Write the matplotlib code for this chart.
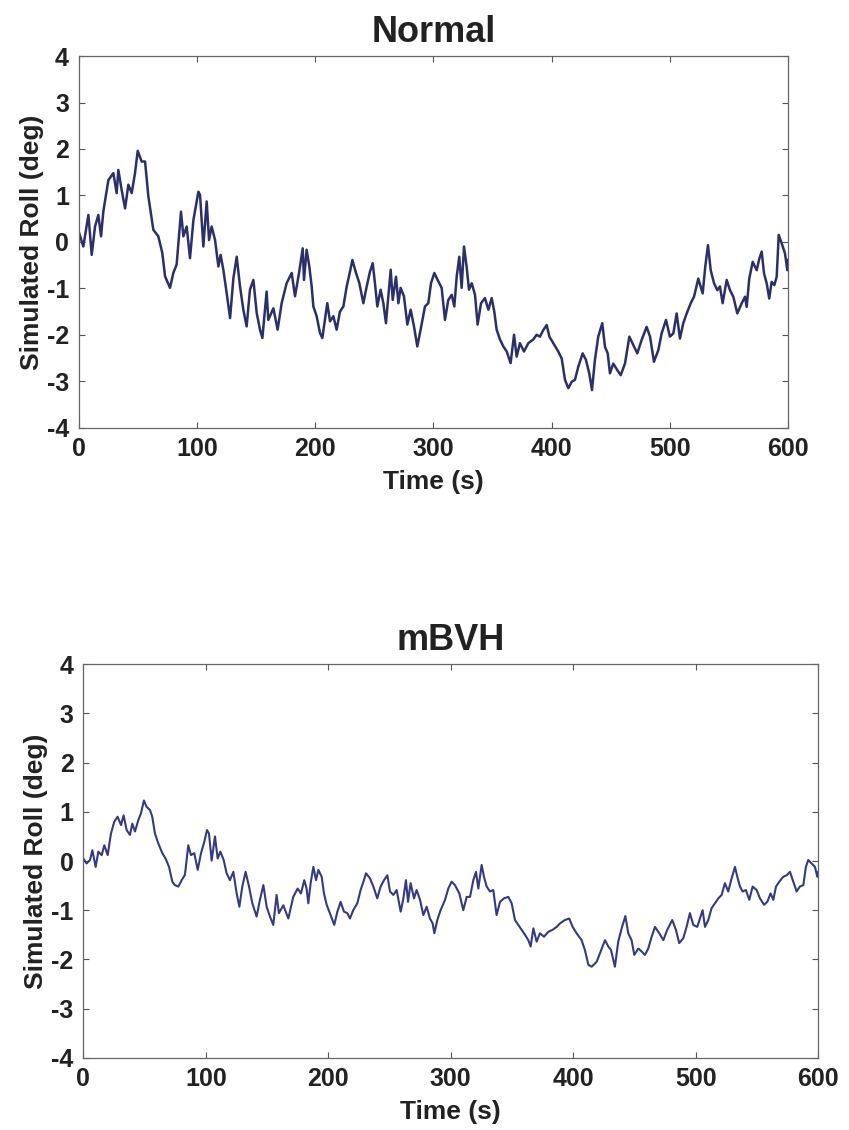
import matplotlib.pyplot as plt

# 読み取り値: Normal (上段)
normal_time = [
    0, 3.9, 8.2, 11.0, 13.8, 16.6, 18.9, 20.8, 25.1, 29.3, 32.1, 33.5, 36.3, 39.2,
    42.0, 44.8, 47.6, 49.9, 53.2, 56.1, 58.9, 63.1, 67.3, 70.7, 73.0, 77.2, 80.0,
    82.8, 86.5, 88.5, 91.3, 94.1, 97.0, 101.2, 102.6, 105.4, 108.2, 110.2, 112.4,
    115.3, 118.1, 120.0, 122.3, 125.1, 128.0, 130.8, 133.6, 136.4, 139.2, 142.0,
    144.8, 147.7, 150.5, 153.3, 155.3, 158.9, 160.3, 164.6, 168.2, 171.6, 175.8,
    180.1, 182.9, 186.3, 189.4, 190.5, 192.7, 195.0, 197.0, 198.4, 201.2, 204.0,
    206.0, 208.2, 210.2, 212.5, 215.3, 218.1, 220.9, 223.8, 226.6, 229.4, 231.4,
    234.5, 237.3, 240.7, 243.5, 246.3, 248.6, 250.5, 252.5, 255.3, 257.6, 259.8,
    261.8, 263.8, 265.5, 268.3, 270.3, 272.2, 275.0, 277.9, 280.7, 283.5, 286.3,
    289.1, 292.8, 295.6, 297.9, 300.7, 303.5, 306.9, 309.7, 312.5, 315.4, 317.6,
    319.6, 321.8, 323.8, 325.8, 328.0, 330.0, 332.3, 335.1, 337.3, 340.2, 343.5,
    346.4, 349.2, 351.4, 353.4, 356.2, 359.0, 361.9, 365.2, 368.1, 370.3, 373.1,
    376.5, 380.2, 384.4, 387.2, 390.0, 392.8, 395.7, 398.0, 401.3, 405.5, 408.4,
    411.2, 414.0, 416.9, 419.6, 422.4, 426.1, 428.9, 431.7, 434.0, 436.5, 439.3,
    442.7, 445.0, 447.3, 449.2, 452.0, 455.4, 458.3, 461.9, 465.6, 468.9, 472.3,
    476.0, 480.2, 483.1, 486.4, 490.1, 492.9, 496.6, 499.9, 502.8, 505.6, 508.4,
    511.2, 514.1, 517.5, 520.3, 523.9, 527.6, 529.8, 532.1, 534.4, 537.2, 540.0,
    542.2, 544.5, 547.9, 550.7, 553.5, 556.9, 560.6, 563.4, 564.8, 567.0, 569.9,
    573.3, 575.5, 577.5, 579.5, 581.7, 583.9, 585.9, 588.2, 590.2, 591.9, 594.4,
    597.2, 599.2, 600.0,
]
normal_roll = [
    0.22, -0.10, 0.58, -0.28, 0.33, 0.58, 0.12, 0.65, 1.33, 1.48, 1.05, 1.55, 1.12, 0.72,
    1.23, 1.05, 1.48, 1.96, 1.73, 1.73, 0.98, 0.26, 0.12, -0.24, -0.74, -0.99, -0.67,
    -0.49, 0.65, 0.12, 0.33, -0.35, 0.47, 1.08, 1.01, -0.10, 0.87, 0.04, 0.33,
    0.04, -0.53, -0.28, -0.60, -1.10, -1.64, -0.78, -0.32, -0.96, -1.46, -1.82,
    -1.03, -0.82, -1.53, -1.89, -2.07, -1.07, -1.68, -1.43, -1.89, -1.32, -0.89,
    -0.67, -1.17, -0.67, -0.14, -0.82, -0.17, -0.53, -0.96, -1.39, -1.60, -1.96,
    -2.07, -1.68, -1.32, -1.71, -1.60, -1.89, -1.50, -1.39, -0.96, -0.64, -0.39,
    -0.67, -0.89, -1.32, -0.96, -0.64, -0.46, -0.89, -1.39, -1.03, -1.32, -1.75,
    -1.17, -0.60, -1.25, -0.75, -1.32, -0.99, -1.17, -1.78, -1.46, -1.82, -2.25,
    -1.89, -1.39, -1.32, -0.89, -0.67, -0.82, -0.99, -1.68, -1.25, -1.14, -1.39,
    -0.75, -0.32, -0.99, -0.10, -0.53, -1.03, -0.89, -1.14, -1.78, -1.32, -1.21,
    -1.46, -1.21, -1.50, -1.89, -2.10, -2.25, -2.36, -2.61, -2.00, -2.47, -2.18,
    -2.36, -2.18, -2.10, -2.00, -2.04, -1.90, -1.79, -2.04, -2.18, -2.36, -2.51,
    -2.97, -3.15, -3.01, -2.97, -2.69, -2.40, -2.54, -2.83, -3.19, -2.54, -2.04,
    -1.75, -2.26, -2.40, -2.83, -2.62, -2.76, -2.87, -2.62, -2.04, -2.22, -2.40,
    -2.11, -1.83, -2.04, -2.58, -2.33, -1.97, -1.68, -2.04, -1.97, -1.54, -2.08,
    -1.75, -1.54, -1.32, -1.18, -0.79, -1.11, -0.53, -0.07, -0.61, -0.89, -1.04,
    -0.96, -1.32, -0.82, -1.04, -1.18, -1.54, -1.32, -1.18, -1.40, -0.79, -0.43,
    -0.61, -0.36, -0.21, -0.68, -0.89, -1.22, -0.86, -0.93, -0.75, 0.15, -0.03,
    -0.25, -0.61, -0.39,
]

# 読み取り値: mBVH (下段)
mbvh_time = [
    0, 2.7, 5.5, 7.4, 10.1, 12.3, 15.0, 17.2, 19.9, 22.6, 25.3, 28.0, 30.8, 32.9, 35.4,
    38.1, 40.0, 42.2, 44.9, 47.1, 49.5, 51.7, 54.4, 56.3, 58.5, 61.2, 64.5, 67.2,
    70.0, 72.7, 74.8, 77.6, 80.3, 83.0, 85.7, 87.9, 90.6, 93.4, 96.1, 98.8, 101.0,
    102.6, 104.8, 107.5, 109.7, 111.9, 114.6, 117.0, 119.7, 122.5, 125.2, 127.4,
    129.8, 132.5, 135.3, 138.0, 141.5, 144.2, 147.0, 149.7, 152.4, 155.1, 157.8,
    159.7, 163.3, 167.4, 171.4, 175.0, 177.7, 180.4, 182.3, 183.7, 185.6, 187.8,
    190.0, 191.9, 194.6, 196.5, 198.7, 201.9, 204.9, 207.4, 210.1, 212.8, 215.5,
    217.7, 220.4, 223.7, 226.4, 229.1, 230.8, 234.0, 236.8, 240.0, 242.7, 245.5,
    248.2, 250.4, 253.1, 255.8, 259.1, 261.3, 263.4, 265.1, 267.2, 270.0, 272.1,
    274.9, 277.6, 280.3, 283.0, 285.2, 286.6, 289.0, 291.7, 295.3, 298.0, 300.7,
    303.4, 307.0, 310.2, 313.0, 315.7, 318.4, 320.6, 322.5, 325.2, 327.1, 329.3,
    332.0, 334.7, 337.4, 340.2, 343.4, 347.0, 349.7, 352.4, 355.1, 357.9, 360.6,
    363.3, 365.2, 367.4, 370.1, 372.8, 376.1, 379.6, 383.1, 386.4, 389.1, 393.2,
    396.7, 399.5, 402.7, 406.8, 409.5, 412.3, 415.0, 419.1, 422.3, 425.9, 428.6,
    430.8, 434.0, 436.7, 439.5, 442.5, 444.9, 447.6, 449.8, 453.1, 455.8, 458.5,
    461.2, 464.0, 466.7, 470.2, 473.5, 476.7, 480.8, 483.8, 486.5, 489.8, 492.5,
    495.2, 498.0, 501.2, 503.4, 505.6, 507.5, 510.2, 512.9, 515.7, 518.4, 521.1,
    523.8, 526.5, 529.3, 532.0, 533.9, 536.1, 538.2, 540.9, 543.7, 546.4, 549.7,
    552.4, 555.7, 558.4, 561.1, 563.3, 565.5, 568.2, 571.4, 574.2, 576.9, 579.6,
    582.3, 585.0, 587.8, 589.9, 591.8, 594.6, 597.3, 599.2, 600.0,
]
mbvh_roll = [
    0.05, -0.05, 0.02, 0.22, -0.12, 0.19, 0.12, 0.32, 0.12, 0.56, 0.80, 0.90, 0.73, 0.93, 0.63,
    0.53, 0.76, 0.60, 0.83, 0.97, 1.23, 1.10, 1.04, 0.90, 0.56, 0.36, 0.16, 0.05,
    -0.12, -0.42, -0.49, -0.52, -0.39, -0.28, 0.32, 0.12, 0.16, -0.18, 0.16, 0.39, 0.63,
    0.56, 0.01, 0.50, 0.05, 0.19, 0.02, -0.25, -0.39, -0.22, -0.66, -0.93,
    -0.52, -0.22, -0.52, -0.86, -1.13, -0.79, -0.49, -0.93, -1.13, -1.30, -0.69,
    -1.06, -0.90, -1.17, -0.73, -0.56, -0.66, -0.39, -0.56, -0.86, -0.45, -0.12,
    -0.39, -0.18, -0.32, -0.66, -0.89, -1.10, -1.30, -1.03, -0.83, -1.03, -1.06,
    -1.17, -1.00, -0.86, -0.59, -0.39, -0.25, -0.35, -0.52, -0.76, -0.52, -0.39,
    -0.29, -0.62, -0.69, -0.59, -1.03, -0.76, -0.39, -0.83, -0.45, -0.76, -0.59,
    -0.79, -1.10, -0.93, -1.17, -1.27, -1.47, -1.20, -1.00, -0.79, -0.56, -0.42,
    -0.49, -0.66, -1.00, -0.73, -0.73, -0.39, -0.22, -0.56, -0.08, -0.32, -0.52,
    -0.62, -0.59, -1.10, -0.83, -0.76, -0.73, -0.86, -1.20, -1.30, -1.40, -1.50,
    -1.61, -1.74, -1.37, -1.64, -1.47, -1.54, -1.44, -1.40, -1.34, -1.27, -1.20,
    -1.17, -1.34, -1.47, -1.61, -1.81, -2.11, -2.15, -2.05, -1.84, -1.61, -1.74,
    -1.81, -2.15, -1.64, -1.37, -1.12, -1.47, -1.61, -1.91, -1.78, -1.84, -1.91,
    -1.78, -1.54, -1.34, -1.47, -1.61, -1.40, -1.20, -1.40, -1.67, -1.57, -1.34,
    -1.06, -1.30, -1.34, -1.17, -1.00, -1.34, -1.20, -0.96, -0.86, -0.76, -0.69,
    -0.45, -0.62, -0.35, -0.12, -0.32, -0.52, -0.62, -0.59, -0.79, -0.52, -0.59,
    -0.76, -0.89, -0.83, -0.66, -0.79, -0.52, -0.42, -0.32, -0.29, -0.22, -0.42,
    -0.62, -0.52, -0.49, -0.12, 0.02, -0.05, -0.12, -0.32, -0.22,
]

x_ticks = [0, 100, 200, 300, 400, 500, 600]
y_ticks = [-4, -3, -2, -1, 0, 1, 2, 3, 4]

plt.rcParams["font.family"] = ["Liberation Sans", "DejaVu Sans"]
plt.rcParams["font.weight"] = "bold"
plt.rcParams["axes.unicode_minus"] = False

fig = plt.figure(figsize=(8.49, 11.30), dpi=100)
fig.patch.set_facecolor("white")

panels = [
    ("Normal", normal_time, normal_roll, [0.0927, 0.6215, 0.8358, 0.3289], "#2b2f6e", 1.8),
    ("mBVH", mbvh_time, mbvh_roll, [0.0981, 0.0640, 0.8657, 0.3481], "#343a88", 1.5),
]

for title, t, roll, rect, color, lw in panels:
    ax = fig.add_axes(rect)
    ax.plot(t, roll, color=color, lw=lw)
    ax.set_xlim(0, 600)
    ax.set_ylim(-4, 4)
    ax.set_xticks(x_ticks)
    ax.set_yticks(y_ticks)
    ax.tick_params(direction="in", top=True, right=True, length=4, width=0.8,
                   color="#555555", labelsize=18, pad=7)
    for lab in ax.get_xticklabels() + ax.get_yticklabels():
        lab.set_fontweight("bold")
        lab.set_color("#222222")
    for s in ax.spines.values():
        s.set_color("#666666")
        s.set_linewidth(0.9)
    ax.set_title(title, fontsize=26, fontweight="bold", pad=10, color="#222222")
    ax.set_xlabel("Time (s)", fontsize=19, fontweight="bold", labelpad=6, color="#222222")
    ax.set_ylabel("Simulated Roll (deg)", fontsize=19, fontweight="bold", labelpad=2,
                  color="#222222")

fig.savefig("out.png", dpi=100)
